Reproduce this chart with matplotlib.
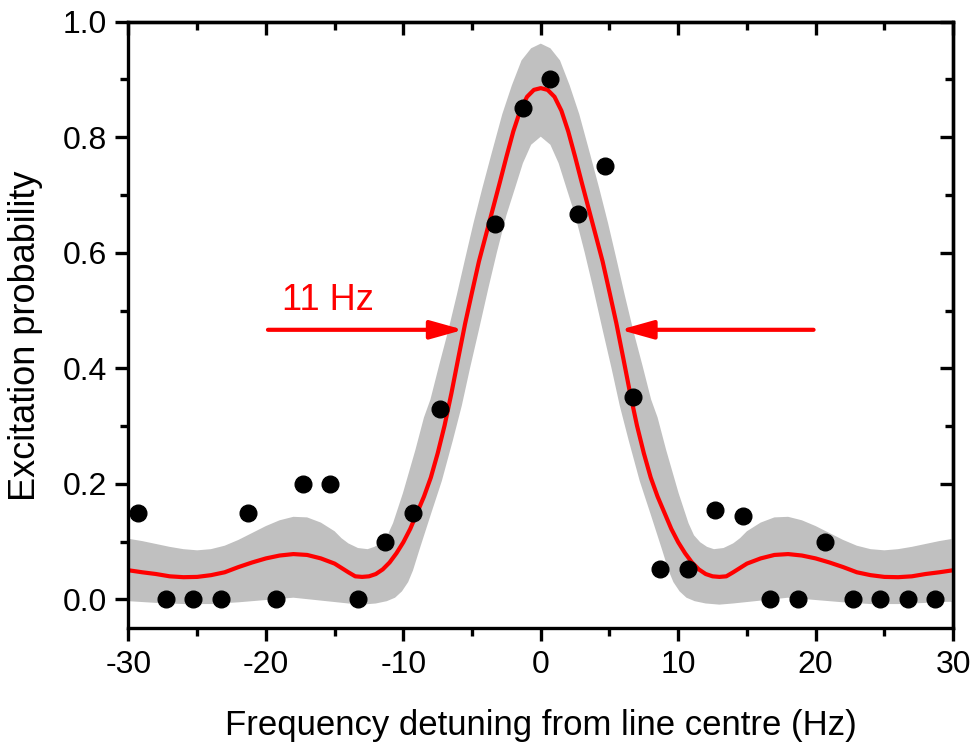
import numpy as np
import matplotlib
matplotlib.use("Agg")
import matplotlib.pyplot as plt
from matplotlib.ticker import MultipleLocator

plt.rcParams['font.family'] = ['Liberation Sans', 'DejaVu Sans']
plt.rcParams['axes.unicode_minus'] = False

# measured points
det = [-29.3, -27.3, -25.3, -23.3, -21.3, -19.3, -17.3, -15.3, -13.3, -11.3,
       -9.3, -7.3, -3.3, -1.3, 0.7, 2.7, 4.7, 6.7, 8.7, 10.7, 12.7, 14.7,
       16.7, 18.7, 20.7, 22.7, 24.7, 26.7, 28.7]
prob = [0.15, 0.0, 0.0, 0.0, 0.15, 0.0, 0.2, 0.2, 0.0, 0.1,
        0.15, 0.33, 0.65, 0.85, 0.9, 0.667, 0.75, 0.35, 0.052, 0.052, 0.155, 0.144,
        0.0, 0.0, 0.1, 0.0, 0.0, 0.0, 0.0]

# fit curve
fit_x = [-30, -29, -28, -27, -26, -25, -24, -23, -22, -21, -20, -19, -18, -17, -16, -15, -14,
         -13.5, -13, -12.5, -12, -11.5, -11, -10.5, -10, -9.5, -9, -8.5, -8, -7.5, -7, -6.5,
         -6, -5.5, -5, -4.5, -4, -3.5, -3, -2.5, -2, -1.5, -1, -0.5, 0,
         0.5, 1, 1.5, 2, 2.5, 3, 3.5, 4, 4.5, 5, 5.5, 6, 6.5, 7, 7.5, 8, 8.5, 9, 9.5,
         10, 10.5, 11, 11.5, 12, 12.5, 13, 13.5, 14, 15, 16, 17, 18, 19, 20, 21, 22,
         23, 24, 25, 26, 27, 28, 29, 30]
fit_y = [0.0505, 0.047, 0.044, 0.040, 0.0385, 0.039, 0.042, 0.047, 0.056, 0.064, 0.071, 0.076,
         0.0785, 0.077, 0.071, 0.062, 0.047, 0.040, 0.039, 0.040, 0.044, 0.052, 0.064, 0.080,
         0.099, 0.122, 0.150, 0.178, 0.211, 0.253, 0.301, 0.357, 0.418, 0.478, 0.532, 0.585,
         0.630, 0.675, 0.720, 0.766, 0.810, 0.846, 0.870, 0.882, 0.885,
         0.882, 0.870, 0.846, 0.810, 0.766, 0.720, 0.675, 0.630, 0.585, 0.532, 0.478, 0.418,
         0.357, 0.301, 0.253, 0.211, 0.178, 0.150, 0.122, 0.099, 0.080, 0.064, 0.052, 0.044,
         0.040, 0.039, 0.040, 0.047, 0.062, 0.071, 0.077, 0.0785, 0.076, 0.071, 0.064, 0.056,
         0.047, 0.042, 0.039, 0.0385, 0.040, 0.044, 0.047, 0.0505]

# confidence band: upper edge
band_up_x = [-30, -29, -28, -27, -26, -25, -24, -23, -22, -21, -20, -19, -18, -17, -16, -15,
             -14.5, -14, -13.3, -12.6, -12.1, -11.6, -11.15, -10.75, -10.03, -9.12, -8.5,
             -8.03, -7.4, -6.73, -6.1, -5.5, -4.9, -4.25, -3.6, -2.8, -2.1, -1.4, -0.7, 0,
             0.7, 1.4, 2.1, 2.8, 3.6, 4.25, 4.9, 5.5, 6.1, 6.73, 7.4, 8.03, 8.5, 9.12, 10.03,
             10.75, 11.15, 11.6, 12.1, 12.6, 13.3, 14, 14.5, 15, 16, 17, 18, 19, 20, 21, 22,
             23, 24, 25, 26, 27, 28, 29, 30]
band_up_y = [0.105, 0.101, 0.096, 0.091, 0.087, 0.085, 0.087, 0.093, 0.103, 0.115, 0.127,
             0.137, 0.143, 0.142, 0.133, 0.118, 0.106, 0.097, 0.089, 0.087, 0.091, 0.099,
             0.111, 0.132, 0.184, 0.259, 0.315, 0.346, 0.405, 0.4655, 0.528, 0.590, 0.651,
             0.712, 0.770, 0.840, 0.890, 0.933, 0.954, 0.962,
             0.954, 0.933, 0.890, 0.840, 0.770, 0.712, 0.651, 0.590, 0.528, 0.4655, 0.405,
             0.346, 0.315, 0.259, 0.184, 0.132, 0.111, 0.099, 0.091, 0.087, 0.089, 0.097,
             0.106, 0.118, 0.133, 0.142, 0.143, 0.137, 0.127, 0.115, 0.103, 0.093, 0.087,
             0.085, 0.087, 0.091, 0.096, 0.101, 0.105]
# confidence band: lower edge
band_lo_x = [-30, -28, -26, -24, -22, -20, -18, -16, -14, -13, -12, -11.2, -10.6, -10.1,
             -9.65, -9.3, -8.8, -8.0, -7.2, -6.4, -5.75, -5.15, -4.5, -3.8, -3.2, -2.5, -1.87,
             -1.3, -0.7, 0,
             0.7, 1.3, 1.87, 2.5, 3.2, 3.8, 4.5, 5.15, 5.75, 6.4, 7.2, 8.0, 8.8, 9.3, 9.65,
             10.1, 10.6, 11.2, 12, 13, 14, 16, 18, 20, 22, 24, 26, 28, 30]
band_lo_y = [-0.003, -0.006, -0.008, -0.008, -0.005, -0.001, 0.003, -0.002, -0.007, -0.009,
             -0.007, -0.003, 0.003, 0.014, 0.030, 0.050, 0.088, 0.147, 0.205, 0.275, 0.335,
             0.400, 0.4667, 0.540, 0.600, 0.665, 0.712, 0.755, 0.787, 0.801,
             0.787, 0.755, 0.712, 0.665, 0.600, 0.540, 0.4667, 0.400, 0.335, 0.275, 0.205,
             0.147, 0.088, 0.050, 0.030, 0.014, 0.003, -0.003, -0.007, -0.009, -0.007, -0.002,
             0.003, -0.001, -0.005, -0.008, -0.008, -0.006, -0.003]

x_ticks = [-30, -20, -10, 0, 10, 20, 30]
y_ticks = [0.0, 0.2, 0.4, 0.6, 0.8, 1.0]

fig = plt.figure(figsize=(9.77, 7.48), dpi=100)
ax = fig.add_axes([0.1315, 0.160, 0.844, 0.811])

poly_x = list(band_up_x) + list(band_lo_x)[::-1]
poly_y = list(band_up_y) + list(band_lo_y)[::-1]
ax.fill(poly_x, poly_y, color='#c0c0c0', linewidth=0, zorder=1)
ax.plot(fit_x, fit_y, color='#ff0000', lw=3.0, zorder=2)
ax.plot(det, prob, 'o', color='black', markersize=12, zorder=4, clip_on=False)

arrow_kw = dict(arrowstyle='-|>,head_length=1.0,head_width=0.28', color='#ff0000', lw=3,
                mutation_scale=20, shrinkA=0, shrinkB=0)
ax.annotate('', xy=(-5.63, 0.4667), xytext=(-19.85, 0.4667), arrowprops=arrow_kw, zorder=5)
ax.annotate('', xy=(5.77, 0.4667), xytext=(19.85, 0.4667), arrowprops=arrow_kw, zorder=5)
ax.text(-18.85, 0.501, '11 Hz', color='#ff0000', fontsize=26, ha='left', va='baseline')

ax.set_xlim(-30, 30)
ax.set_ylim(-0.05, 1.0)
ax.set_xticks(x_ticks)
ax.set_xticklabels([str(t) for t in x_ticks])
ax.set_yticks(y_ticks)
ax.set_yticklabels([f"{t:.1f}" for t in y_ticks])
ax.xaxis.set_minor_locator(MultipleLocator(5))
ax.yaxis.set_minor_locator(MultipleLocator(0.1))

for s in ax.spines.values():
    s.set_linewidth(2.4)
ax.tick_params(which='both', direction='out', width=2.4, labelsize=23, pad=6,
               top=False, right=False)
ax.tick_params(which='major', length=9.5)
ax.tick_params(which='minor', length=5.5)

# inward mirrored ticks on top and right
axt = ax.secondary_xaxis('top')
axt.set_xticks(x_ticks)
axt.xaxis.set_minor_locator(MultipleLocator(5))
axt.tick_params(which='both', direction='in', width=2.4, labeltop=False)
axt.tick_params(which='major', length=9.5)
axt.tick_params(which='minor', length=5.5)
axt.spines['top'].set_linewidth(2.4)
axr = ax.secondary_yaxis('right')
axr.set_yticks(y_ticks)
axr.yaxis.set_minor_locator(MultipleLocator(0.1))
axr.tick_params(which='both', direction='in', width=2.4, labelright=False)
axr.tick_params(which='major', length=9.5)
axr.tick_params(which='minor', length=5.5)
axr.spines['right'].set_linewidth(2.4)

fig.text(541 / 977, 1 - 735 / 748, 'Frequency detuning from line centre (Hz)', fontsize=25,
         ha='center', va='baseline')
fig.text(26 / 977, 1 - 336 / 748, 'Excitation probability', fontsize=26, rotation=90,
         ha='center', va='center')

fig.savefig('out.png', dpi=100)
